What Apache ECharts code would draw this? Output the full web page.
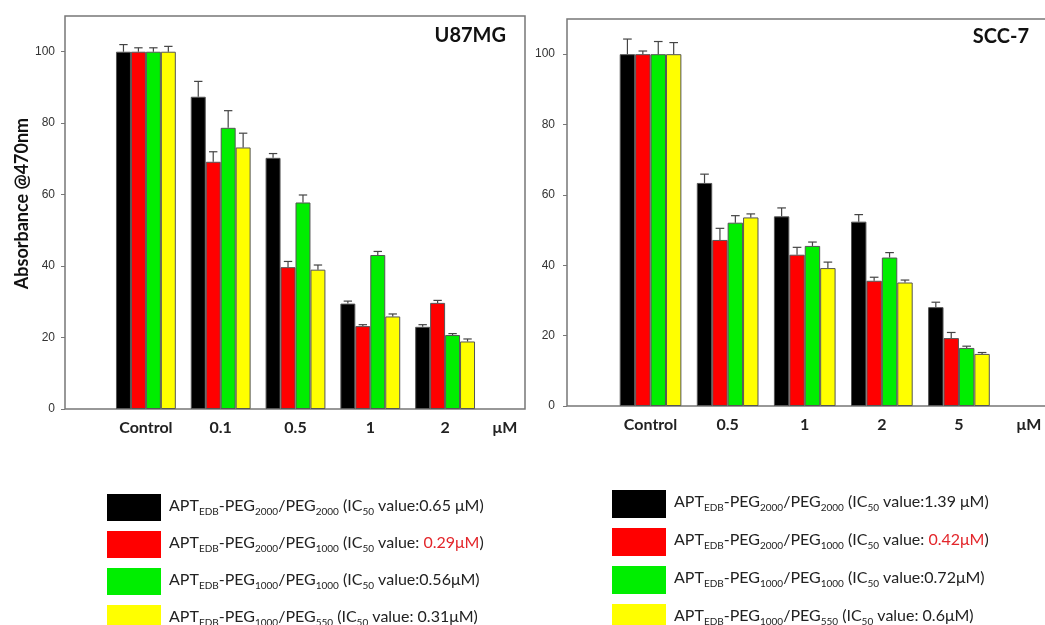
<!DOCTYPE html>
<html>
<head>
<meta charset="utf-8">
<title>Absorbance @470nm</title>
<script src="https://cdn.jsdelivr.net/npm/echarts@6/dist/echarts.min.js"></script>
<style>
html, body { margin: 0; padding: 0; background: #fff; }
#chart { width: 1045px; height: 625px; }
</style>
</head>
<body>
<div id="chart"></div>
<script>
// categories (concentration, uM)
var leftCats = ["Control", "0.1", "0.5", "1", "2"];
var rightCats = ["Control", "0.5", "1", "2", "5"];
var yTicks = [0, 20, 40, 60, 80, 100];

var seriesNames = ["PEG2000/PEG2000", "PEG2000/PEG1000", "PEG1000/PEG1000", "PEG1000/PEG550"];

// U87MG
var u87A = [100, 87.4, 70.3, 29.5, 23.0];
var u87AErr = [2.0, 4.3, 1.2, 0.7, 0.6];
var u87B = [100, 69.2, 39.7, 23.2, 29.7];
var u87BErr = [1.1, 2.8, 1.6, 0.4, 0.7];
var u87C = [100, 78.7, 57.8, 43.1, 20.7];
var u87CErr = [1.1, 4.8, 2.1, 1.0, 0.4];
var u87D = [100, 73.2, 39.0, 25.9, 18.9];
var u87DErr = [1.5, 4.0, 1.3, 0.7, 0.7];

// SCC-7
var sccA = [100, 63.4, 53.9, 52.4, 28.1];
var sccAErr = [4.3, 2.5, 2.4, 2.0, 1.4];
var sccB = [100, 47.2, 43.0, 35.6, 19.3];
var sccBErr = [0.9, 3.3, 2.1, 1.0, 1.6];
var sccC = [100, 52.1, 45.5, 42.2, 16.5];
var sccCErr = [3.6, 2.0, 1.1, 1.4, 0.5];
var sccD = [100, 53.6, 39.2, 35.1, 14.8];
var sccDErr = [3.3, 1.0, 1.7, 0.7, 0.4];

var legendLeft = [
    "APT{s|EDB}-PEG{s|2000}/PEG{s|2000} (IC{s|50} value:0.65 μM)",
    "APT{s|EDB}-PEG{s|2000}/PEG{s|1000} (IC{s|50} value: {r|0.29μM})",
    "APT{s|EDB}-PEG{s|1000}/PEG{s|1000} (IC{s|50} value:0.56μM)",
    "APT{s|EDB}-PEG{s|1000}/PEG{s|550} (IC{s|50} value: 0.31μM)"
];
var legendRight = [
    "APT{s|EDB}-PEG{s|2000}/PEG{s|2000} (IC{s|50} value:1.39 μM)",
    "APT{s|EDB}-PEG{s|2000}/PEG{s|1000} (IC{s|50} value: {r|0.42μM})",
    "APT{s|EDB}-PEG{s|1000}/PEG{s|1000} (IC{s|50} value:0.72μM)",
    "APT{s|EDB}-PEG{s|1000}/PEG{s|550} (IC{s|50} value: 0.6μM)"
];

var colors = ["#000000", "#ff0000", "#00ee00", "#ffff00"];

var chart = echarts.init(document.getElementById("chart"));

function errRender(k) {
    return function (params, api) {
        var x = api.value(0), v = api.value(1), e = api.value(2);
        var base = api.coord([x, v]);
        var top = api.coord([x, v + e]);
        var band = api.size([1, 0])[0];
        var bw = band * 0.8 / 4;
        var cx = base[0] - band * 0.4 + bw * (k + 0.5);
        var cap = bw * 0.28;
        var st = { stroke: "#444", lineWidth: 1.2 };
        return {
            type: "group",
            children: [
                { type: "line", shape: { x1: cx, y1: base[1], x2: cx, y2: top[1] }, style: st },
                { type: "line", shape: { x1: cx - cap, y1: top[1], x2: cx + cap, y2: top[1] }, style: st }
            ]
        };
    };
}

function makeSeries(axis, vals, errs) {
    var out = [];
    for (var k = 0; k < 4; k++) {
        out.push({
            name: seriesNames[k],
            type: "bar",
            xAxisIndex: axis,
            yAxisIndex: axis,
            barGap: "0%",
            barCategoryGap: "20%",
            itemStyle: { color: colors[k], borderColor: "#555", borderWidth: 1 },
            data: vals[k]
        });
    }
    for (var j = 0; j < 4; j++) {
        out.push({
            type: "custom",
            xAxisIndex: axis,
            yAxisIndex: axis,
            z: 3,
            renderItem: errRender(j),
            encode: { x: 0, y: 1 },
            data: vals[j].map(function (v, i) { return [i, v, errs[j][i]]; })
        });
    }
    return out;
}

var labelFont = { fontFamily: "Lato", fontWeight: "bold", fontSize: 16, color: "#222" };
var tickFont = { fontFamily: "Liberation Sans", fontSize: 12, color: "#333" };

function dataX(grid, cats, gap) {
    return {
        gridIndex: grid,
        type: "category",
        data: cats,
        axisLine: { show: false },
        axisTick: { show: false },
        axisLabel: Object.assign({ margin: 11 }, labelFont),
        name: "μM",
        nameLocation: "end",
        nameGap: gap,
        nameTextStyle: Object.assign({ align: "left", verticalAlign: "top", padding: [11, 0, 0, 0] }, labelFont)
    };
}

function dataY(grid, offset, margin) {
    return {
        gridIndex: grid,
        type: "value",
        min: 0,
        max: 110,
        offset: offset,
        axisLine: { show: false },
        axisTick: { show: true, length: 4, customValues: yTicks, lineStyle: { color: "#777" } },
        axisLabel: Object.assign({ margin: margin, customValues: yTicks }, tickFont),
        splitLine: { show: false }
    };
}

var hidden = { type: "value", show: false, min: 0, max: 1 };

var yLeft = dataY(1, 43.5, 10);
yLeft.name = "Absorbance @470nm";
yLeft.nameLocation = "middle";
yLeft.nameGap = 33;
yLeft.nameTextStyle = { fontFamily: "Lato", fontWeight: "bold", fontSize: 18, color: "#111", padding: [0, 0, 0, 18] };

function legendOf(left, top, h, texts) {
    return {
        left: left,
        top: top,
        height: 200,
        orient: "vertical",
        padding: 0,
        itemWidth: 54,
        itemHeight: h,
        itemGap: 10,
        icon: "rect",
        itemStyle: { borderWidth: 0 },
        selectedMode: false,
        data: seriesNames,
        formatter: function (n) { return texts[seriesNames.indexOf(n)]; },
        textStyle: {
            fontFamily: "Lato",
            fontSize: 16,
            color: "#222",
            lineHeight: 20,
            padding: [0, 0, 4, 3],
            rich: {
                s: { fontFamily: "Lato", fontSize: 10, lineHeight: 10, color: "#222", verticalAlign: "top", padding: [11, 0, 0, 0] },
                r: { fontFamily: "Lato", fontSize: 16, lineHeight: 20, color: "#e3262b" }
            }
        }
    };
}

var option = {
    animation: false,
    backgroundColor: "#fff",
    title: [
        { text: "U87MG", right: 539, top: 26, padding: 0, textStyle: { fontFamily: "Lato", fontWeight: "bold", fontSize: 20, color: "#111" } },
        { text: "SCC-7", right: 16, top: 27, padding: 0, textStyle: { fontFamily: "Lato", fontWeight: "bold", fontSize: 20, color: "#111" } }
    ],
    legend: [
        legendOf(107, 494, 27, legendLeft),
        legendOf(612, 490, 28, legendRight)
    ],
    grid: [
        { left: 65, top: 16, width: 460, height: 393, show: true, borderColor: "#777", borderWidth: 1.5, backgroundColor: "transparent", outerBoundsMode: "none" },
        { left: 108.5, top: 16, width: 374, height: 393, outerBoundsMode: "none" },
        { left: 567, top: 19, width: 485, height: 387, show: true, borderColor: "#777", borderWidth: 1.5, backgroundColor: "transparent", outerBoundsMode: "none" },
        { left: 612, top: 19, width: 385.5, height: 387, outerBoundsMode: "none" }
    ],
    xAxis: [
        Object.assign({ gridIndex: 0 }, hidden),
        dataX(1, leftCats, 10),
        Object.assign({ gridIndex: 2 }, hidden),
        dataX(3, rightCats, 19)
    ],
    yAxis: [
        Object.assign({ gridIndex: 0 }, hidden),
        yLeft,
        Object.assign({ gridIndex: 2 }, hidden),
        dataY(3, 45, 12)
    ],
    series: makeSeries(1, [u87A, u87B, u87C, u87D], [u87AErr, u87BErr, u87CErr, u87DErr])
        .concat(makeSeries(3, [sccA, sccB, sccC, sccD], [sccAErr, sccBErr, sccCErr, sccDErr]))
};

chart.setOption(option);
window.addEventListener("resize", chart.resize);
</script>
</body>
</html>
